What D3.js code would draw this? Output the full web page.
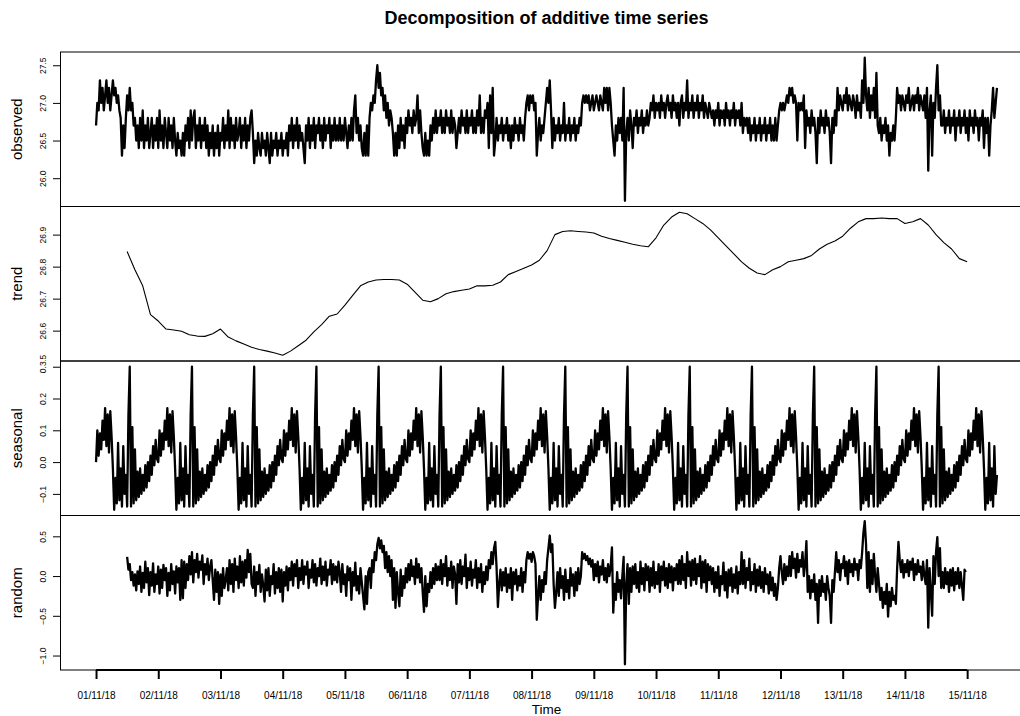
<!DOCTYPE html>
<html>
<head>
<meta charset="utf-8">
<script src="https://cdn.jsdelivr.net/npm/d3@7"></script>
<style>
  body { margin: 0; background: #fff; }
  svg { display: block; font-family: "Liberation Sans", Arial, Helvetica, sans-serif; }
</style>
</head>
<body>
<svg id="chart" width="1020" height="716"></svg>
<script>
// half-hourly readings starting 01/11/18 00:00
const observed = [
  26.7, 27.0, 26.9,
  27.3, 27.0, 27.2, 26.9, 27.1, 27.3, 27.0, 27.2, 26.9, 27.1, 27.3, 27.1, 27.2, 27.0, 27.1, 26.9,
  26.8, 26.3,
  26.7, 26.4, 26.8, 27.1, 26.9, 27.2, 26.9, 27.0, 26.7,
  26.8, 26.5, 26.7, 26.4, 26.8, 26.5, 26.9, 26.4, 26.7, 26.5, 26.8, 26.4, 26.6, 26.8, 26.4, 26.7,
  26.5, 26.8, 26.4, 26.9, 26.5, 26.7, 26.4, 26.8, 26.6, 26.4, 26.8, 26.5, 26.7, 26.4, 26.8, 26.5,
  26.3, 26.6, 26.4, 26.5, 26.3, 26.6, 26.3, 26.7,
  26.5, 26.8, 26.4, 26.9, 26.5, 26.8, 26.9, 26.4, 26.7, 26.5, 26.8, 26.4, 26.7, 26.5, 26.8, 26.4,
  26.7, 26.3, 26.6, 26.4, 26.7, 26.3, 26.6, 26.4, 26.7, 26.3, 26.6, 26.5,
  26.8, 26.4, 26.7, 26.5, 26.9, 26.4, 26.8, 26.5, 26.7, 26.4, 26.8, 26.5, 26.6, 26.8, 26.4, 26.7,
  26.5, 26.8, 26.4, 26.7, 26.5, 26.8, 26.9, 26.6,
  26.2, 26.5, 26.3, 26.6, 26.4, 26.3, 26.6, 26.4, 26.5, 26.3, 26.6, 26.4, 26.2, 26.6, 26.3, 26.5,
  26.4, 26.6, 26.3, 26.5, 26.4, 26.6, 26.3, 26.5, 26.4, 26.6, 26.3, 26.7,
  26.5, 26.8, 26.4, 26.7, 26.5, 26.8, 26.4, 26.7, 26.5, 26.6, 26.4, 26.2, 26.7, 26.5, 26.8, 26.4,
  26.7, 26.5, 26.8, 26.4, 26.7, 26.6, 26.8, 26.5, 26.7, 26.4, 26.8, 26.5, 26.7, 26.6, 26.8, 26.4,
  26.7, 26.5, 26.8, 26.5, 26.7, 26.5,
  26.8, 26.5, 26.7, 26.5, 26.8, 26.6, 26.4, 26.7, 26.5, 26.8, 26.5, 26.9, 27.1, 26.6, 26.8, 26.5, 26.7,
  26.4, 26.3, 26.6, 26.3, 26.7, 26.3,
  26.8, 27.0, 26.9, 27.1, 27.0, 27.3,
  27.5, 27.2, 27.4, 27.1,
  27.2, 26.9, 27.1, 26.8, 27.0, 26.7, 26.9, 26.8, 26.6,
  26.3, 26.6, 26.3, 26.7, 26.4, 26.8, 26.5, 26.7, 26.4, 26.8,
  26.6, 26.9, 26.7, 26.8, 26.6, 26.9, 26.7, 26.8, 27.1, 26.6, 26.9, 26.6,
  26.4, 26.3, 26.6, 26.3, 26.5, 26.3, 26.7, 26.5,
  26.8, 26.6, 26.9, 26.6, 26.8, 26.7, 26.9, 26.6, 26.8, 26.6, 26.9, 26.7, 26.8, 26.6, 26.9, 26.6,
  26.8, 26.7, 26.4, 26.6, 26.8, 26.6, 26.9, 26.7, 26.8, 26.6, 26.9, 26.6, 26.8, 26.7, 26.9, 26.6,
  26.8, 26.6, 26.9, 26.7, 27.1, 26.6, 26.8, 26.6, 26.9,
  26.8, 27.0, 26.4, 27.1, 26.6, 27.2, 26.3, 26.5,
  26.8, 26.5, 26.7, 26.6, 26.8, 26.5, 26.7, 26.6, 26.8, 26.5, 26.7, 26.4, 26.7, 26.5, 26.8, 26.6,
  26.7, 26.5, 26.8, 26.6, 26.7, 26.5, 26.8,
  27.0, 27.1, 26.9, 27.1, 27.0, 27.1, 26.9, 27.0,
  26.3,
  26.6, 26.8, 26.5, 26.7, 26.6, 26.8, 27.0,
  27.2, 27.0, 27.3, 26.9,
  26.4,
  26.8, 26.5, 26.7, 26.6, 26.8, 26.5, 26.7, 26.6, 27.0, 26.5, 26.7, 26.6, 26.8, 26.5, 26.7, 26.6,
  26.8, 26.5, 26.7, 26.6, 26.8, 26.7,
  27.0, 27.1, 27.0, 27.1, 27.0, 27.1, 26.9, 27.0, 27.1, 26.9, 27.0, 27.1, 27.0, 26.9, 27.1, 27.0,
  26.9, 27.2, 27.0, 27.2, 26.9, 27.2, 27.0,
  26.7, 26.5, 26.3, 26.7, 26.5, 26.8, 26.6, 26.8, 26.5, 27.2,
  25.7,
  26.6, 26.8, 26.5, 26.9, 26.7, 26.4, 26.8, 26.7, 26.9, 26.6, 26.8, 26.7, 26.9, 26.6, 26.8, 26.7,
  26.9, 26.7,
  26.8, 27.0, 26.9, 27.1, 26.8, 27.0, 26.9, 27.0, 26.8, 27.1, 26.9, 27.0, 26.8, 27.0, 27.1, 26.9,
  27.0, 26.8, 27.1, 26.9, 27.0, 26.8, 27.0,
  26.7, 27.0, 27.1, 26.8, 27.0, 26.9, 27.3, 26.8, 27.0, 26.9, 27.1, 26.8, 27.0, 26.9, 27.1, 26.8,
  27.0, 26.9, 27.1, 26.8, 27.0, 26.9, 26.8, 27.0, 26.9, 26.8,
  26.9, 26.7, 26.9, 26.8, 27.0, 26.7, 26.9, 26.8, 26.9, 26.7, 27.0, 26.8, 26.9, 26.7, 26.9, 26.8,
  27.0, 26.7, 26.9, 26.8, 26.9, 26.7, 27.0, 26.6, 26.8, 26.7,
  26.8, 26.6, 26.8, 26.5, 26.7, 26.6, 26.8, 26.5, 26.7, 26.6, 26.8, 26.5, 26.7, 26.6, 26.8, 26.5,
  26.7, 26.6, 26.8, 26.5, 26.7, 26.5, 26.8, 26.5, 26.7,
  26.9, 27.0, 26.9, 27.0, 26.9, 27.0, 27.1, 27.0,
  27.2, 27.1, 27.2, 27.0, 27.1, 27.0,
  26.5,
  27.0, 26.9, 27.0, 26.9, 27.1, 26.4, 26.9, 26.7,
  26.8, 26.6, 26.9, 26.7, 26.8, 26.6, 26.2, 26.8, 26.6, 26.9, 26.7, 26.8, 26.6, 26.9, 26.7, 26.8,
  26.6, 26.2, 26.8, 26.6, 26.9, 26.7,
  27.2, 26.9, 27.1, 27.0, 26.9, 27.1, 27.0, 27.2, 26.9, 27.1, 27.0, 26.9, 27.1, 27.0, 26.8, 27.1,
  26.9, 27.0,
  26.8, 27.3, 27.0, 27.6, 27.1,
  26.9, 27.2, 26.8, 27.1, 26.9, 27.2, 26.8, 27.4, 26.7,
  26.6, 26.8, 26.5, 26.7, 26.6, 26.8, 26.5, 26.7, 26.3, 26.6, 26.5, 26.7, 26.5, 26.8,
  27.2, 27.0, 27.1,
  26.9, 27.1, 27.0, 26.9, 27.1, 27.0, 27.2, 26.9, 27.0, 27.1, 26.9, 27.1, 27.0, 27.2, 26.9, 27.1,
  27.0, 26.9, 27.1,
  26.8, 27.2, 26.1, 26.9, 27.1, 26.3, 27.0, 26.8, 27.2, 27.5, 26.9, 27.1, 26.7,
  26.7, 26.9, 26.6, 26.8, 26.7, 26.9, 26.6, 26.8, 26.7, 26.9, 26.5, 26.8, 26.7, 26.9, 26.6, 26.8,
  26.7, 26.9, 26.6, 26.8, 26.5, 26.9, 26.7, 26.8, 26.6, 26.9, 26.7, 26.8, 26.5, 26.8, 26.7, 26.9,
  26.4, 26.8, 26.6, 26.8, 26.3, 26.7,
  26.9, 27.2, 26.8, 27.0, 27.2
];

// moving-average trend, read every 3 hours from 01/11/18 12:00
const trendValues = [
  26.847, 26.79, 26.74, 26.65, 26.63, 26.605, 26.602, 26.598, 26.587, 26.583,
  26.582, 26.59, 26.605, 26.58, 26.568, 26.558, 26.548, 26.541, 26.536, 26.53,
  26.523, 26.536, 26.553, 26.57, 26.596, 26.619, 26.645, 26.652, 26.68, 26.71,
  26.74, 26.752, 26.758, 26.76, 26.76, 26.758, 26.745, 26.72, 26.695, 26.69,
  26.70, 26.715, 26.722, 26.726, 26.73, 26.74, 26.74, 26.742, 26.752, 26.775,
  26.785, 26.795, 26.805, 26.82, 26.85, 26.90, 26.91, 26.912, 26.91, 26.908,
  26.905, 26.895, 26.888, 26.882, 26.876, 26.87, 26.865, 26.862, 26.89, 26.93,
  26.955, 26.97, 26.965, 26.95, 26.935, 26.915, 26.89, 26.865, 26.84, 26.815,
  26.795, 26.78, 26.775, 26.79, 26.80, 26.815, 26.82, 26.825, 26.835, 26.855,
  26.87, 26.88, 26.895, 26.92, 26.94, 26.95, 26.95, 26.952, 26.95, 26.95,
  26.935, 26.94, 26.95, 26.93, 26.90, 26.875, 26.855, 26.825, 26.815
];

// one day of the seasonal figure, half-hourly from 00:00
const seasonalFigure = [
  0.00, 0.10, 0.02, 0.09, 0.04, 0.13, 0.07, 0.17, 0.05, 0.15,
  0.03, 0.16, 0.08, -0.02, -0.15, -0.05, -0.13, 0.06, -0.12, -0.02,
  -0.14, 0.05, -0.10, -0.04, -0.14, 0.15, 0.30, -0.14, 0.11, -0.13,
  0.04, -0.12, -0.03, -0.11, -0.02, -0.10, -0.04, -0.09, -0.01, -0.08,
  0.00, -0.06, 0.02, -0.04, 0.05, -0.01, 0.07, 0.01
];

// remainder, half-hourly from 01/11/18 12:00
const randomValues = [
  0.24, 0.08, 0.15, -0.05, 0.05, -0.12, 0.02, -0.18, 0.06, -0.1, 0.12, -0.2, 0.04, -0.15, 0.18, -0.08,
  0.1, -0.24, 0.05, -0.12, 0.16, -0.2, 0.02, -0.1, 0.12, -0.22, 0.08, -0.15, 0.14, -0.05, 0.1, -0.25,
  0.04, -0.18, 0.15, -0.1, 0.06, -0.22, 0.12, -0.08, 0.1,
  -0.3, 0.2, -0.28, 0.18, -0.15,
  0.15, -0.05, 0.25, 0.02, 0.3, -0.08, 0.2, 0.05, 0.28, -0.02, 0.18, 0.08, 0.26, -0.1, 0.15, 0.02,
  0.22, -0.05, 0.12, 0.2,
  -0.05, -0.3, 0.08, -0.2, 0.05, -0.35, 0.02, -0.25, 0.1, -0.15, -0.05,
  0.1, -0.18, 0.2, -0.1, 0.15, -0.2, 0.22, -0.05, 0.12, -0.15, 0.25, -0.08, 0.18, -0.12, 0.2, -0.02,
  0.33, 0.05, 0.28, -0.1,
  -0.15, 0.12, -0.25, 0.05, -0.1, 0.14, -0.2, 0.02, -0.12, -0.32, 0.08, -0.18, 0.1, -0.25, 0.0, -0.1,
  0.15, -0.22, 0.05, -0.15, 0.1, -0.2, 0.08, -0.32, 0.05, -0.12, 0.12, -0.18, 0.1,
  -0.05, 0.18, -0.12, 0.15, 0.0, 0.2, -0.15, 0.1, -0.05, 0.2, -0.1, 0.12, 0.02, 0.18, -0.15, 0.08,
  -0.02, 0.2, -0.08, 0.15, -0.12, 0.1, 0.0, 0.22, -0.1, 0.12, -0.05, 0.18, -0.12, 0.08, 0.02, 0.2,
  -0.1, 0.15, -0.05, 0.12, -0.08, 0.18,
  0.05, -0.2, 0.15, -0.1, 0.02, -0.25, 0.12, -0.05, 0.1, -0.3, 0.05, -0.12, 0.17, -0.18, 0.0, -0.22,
  0.1, -0.08, -0.25,
  -0.42, 0.0, -0.35, 0.05,
  0.1, -0.15, 0.2, 0.05, 0.3, 0.2,
  0.4, 0.48, 0.35, 0.45,
  0.3, 0.38, 0.1, 0.3, 0.05, 0.25, 0.0, 0.2,
  -0.3, 0.1, -0.4, 0.05, -0.2, -0.38, 0.08, -0.25, 0.0, -0.15, 0.1,
  -0.08, 0.15, -0.05, 0.2, 0.0, 0.12, -0.1, 0.22, -0.02, 0.15, -0.08, 0.1,
  -0.2, -0.45, 0.0, -0.38, -0.1,
  -0.2, 0.05, -0.15, 0.1, -0.1, 0.15, -0.05, 0.12,
  -0.05, 0.2, -0.1, 0.15, 0.0, 0.25, -0.12, 0.1, -0.05, 0.18, -0.15, 0.12, 0.02, -0.35, 0.15, -0.08,
  0.2, -0.1, 0.12, 0.0, 0.27, -0.15, 0.1, -0.05, 0.18, -0.12, 0.08, -0.02, 0.2, -0.15, 0.1, -0.08,
  0.15, -0.2, 0.05, -0.1, 0.12, -0.05, 0.2,
  0.1, 0.3, 0.15, 0.35, 0.43, 0.1, -0.39,
  -0.1, 0.08, -0.18, 0.05, -0.12, 0.1, -0.2, 0.02, -0.15, 0.1, -0.3, 0.05, -0.1, 0.08, -0.18, 0.0,
  -0.12, 0.1, -0.2, 0.05, -0.08,
  0.2, 0.3, 0.22, 0.28, 0.18, 0.3, 0.25, 0.15,
  -0.55,
  -0.25, 0.0, -0.3, -0.05, -0.2, 0.05, -0.1,
  0.2, 0.35, 0.51, 0.3, 0.4,
  -0.1, -0.4, -0.2,
  0.05, -0.25, 0.1, -0.15, 0.0, -0.3, 0.08, -0.2, -0.05, -0.28, 0.1, -0.12, 0.02, -0.25, 0.05, -0.18,
  0.1, -0.1, 0.0,
  0.3, 0.22, 0.28, 0.2, 0.25, 0.15, 0.22, 0.12,
  0.2, -0.05, 0.15, 0.0, 0.18, -0.08, 0.12, 0.02, 0.2, -0.05, 0.1, -0.08, 0.15, 0.0, 0.12,
  0.36, -0.46,
  -0.1, -0.3, 0.05, -0.2, -0.05, -0.28, 0.0, 0.24,
  -1.11,
  -0.1,
  0.15, -0.35, 0.1, -0.2, 0.12, -0.1, 0.15, -0.15, 0.05, -0.2, 0.18, -0.1, 0.1, -0.18, 0.15, -0.05,
  0.12, -0.2, 0.1, -0.12, 0.18, -0.15, 0.05, -0.1, 0.15, -0.2, 0.12, -0.05, 0.18, -0.12, 0.1, -0.15,
  0.15, -0.08, 0.12, -0.18, 0.1, -0.05, 0.15, -0.1,
  0.2, -0.1, 0.25, -0.05, 0.15, -0.15, 0.3, 0.0, 0.18, -0.12, 0.2, -0.05, 0.22, -0.1, 0.15, 0.0,
  0.25, -0.15, 0.18, -0.08, 0.2, -0.2, 0.15, -0.05, 0.12, -0.1,
  0.1, -0.2, 0.05, -0.15, 0.12, -0.25, 0.0, -0.1, 0.17, -0.18, 0.05, -0.27, 0.08, -0.12, 0.1, -0.2,
  0.02, -0.15, 0.12, -0.22, 0.05, -0.1,
  0.3, -0.1, 0.2, -0.15, 0.1, -0.05, 0.22, -0.18, 0.05, -0.1, 0.15, -0.2, 0.08, -0.12, 0.12, -0.15,
  0.05, -0.2, 0.1, -0.1, 0.02, -0.22, 0.05, -0.18, -0.02, -0.25, -0.1, -0.3, -0.15,
  0.1, 0.25, 0.05,
  -0.1, 0.15, -0.05, 0.12, 0.0,
  0.25, 0.0, 0.3, 0.1, 0.22, -0.02, 0.28, 0.05, 0.2, 0.12, 0.3, 0.0, 0.15, 0.44,
  -0.2, 0.0, -0.28, -0.05, -0.2, 0.02, -0.3, -0.1, -0.59, -0.05, -0.25, 0.0, -0.2, -0.1, -0.3, 0.0,
  -0.15, -0.25, -0.59, -0.05, -0.2, 0.05,
  0.3, 0.05, 0.2, -0.05, 0.15, 0.1, 0.25, 0.0, 0.18, -0.1, 0.2, 0.05, 0.15, 0.0, 0.22, 0.08,
  0.15, -0.05, 0.2, 0.1,
  0.3, 0.55, 0.69, 0.4,
  -0.15, 0.3, -0.2, 0.2, -0.1, 0.28, 0.0, -0.2, 0.1,
  -0.1, -0.3, -0.15, -0.4, -0.2, -0.35, -0.1, -0.51, -0.2, -0.38, -0.15, -0.3, -0.25, -0.35,
  0.1, 0.43, 0.2,
  0.05, 0.2, -0.02, 0.15, 0.05, 0.2, 0.0, 0.18, 0.08, 0.22, -0.05, 0.15, 0.02, 0.2, 0.05, 0.12,
  -0.05, 0.18, 0.0,
  -0.1, 0.2, -0.65, 0.1, -0.2, -0.5, 0.25, -0.1, 0.3, 0.49, 0.0, 0.35, -0.15,
  0.05, -0.15, 0.1, -0.1, 0.05, -0.2, 0.08, -0.12, 0.1, -0.18, 0.05, -0.1, 0.1, -0.15, 0.05, -0.12,
  -0.3, 0.08, 0.05
];

const dayLabels = ['01/11/18', '02/11/18', '03/11/18', '04/11/18', '05/11/18', '06/11/18', '07/11/18',
  '08/11/18', '09/11/18', '10/11/18', '11/11/18', '12/11/18', '13/11/18', '14/11/18', '15/11/18'];

const panelNames = ['observed', 'trend', 'seasonal', 'random'];
const observedTicks = [26.0, 26.5, 27.0, 27.5];
const trendTicks = [26.5, 26.6, 26.7, 26.8, 26.9];
const seasonalTicks = [-0.1, 0.0, 0.1, 0.2, 0.3];
const randomTicks = [-1.0, -0.5, 0.0, 0.5];

// --- time base ---
const stepMinutes = 30;
const perDay = 48;
const halfDay = perDay / 2;
const trendEvery = 6;
const start = d3.timeParse('%d/%m/%y')(dayLabels[0]);
const timeAt = i => new Date(start.getTime() + i * stepMinutes * 60000);

const series = [
  observed.map((v, i) => ({t: timeAt(i), v})),
  trendValues.map((v, j) => ({t: timeAt(halfDay + j * trendEvery), v})),
  observed.map((_, i) => ({t: timeAt(i), v: seasonalFigure[i % perDay]})),
  randomValues.map((v, k) => ({t: timeAt(halfDay + k), v}))
];
const tickSets = [observedTicks, trendTicks, seasonalTicks, randomTicks];
// the dense series need a heavier pen to read as a solid band
const strokeWidths = [2.3, 1.1, 2.3, 2.3];

// --- layout ---
const plotLeft = 60, plotRight = 1033, plotTop = 52, plotBottom = 670;
const panelH = (plotBottom - plotTop) / 4;

const svg = d3.select('#chart');
svg.append('rect').attr('width', 1020).attr('height', 716).attr('fill', '#fff');

// x scale over the whole record, padded 4% each side like R
const t0 = timeAt(0), t1 = timeAt(observed.length - 1);
const xPad = (t1 - t0) * 0.04;
const x = d3.scaleTime()
    .domain([new Date(t0.getTime() - xPad), new Date(t1.getTime() + xPad)])
    .range([plotLeft, plotRight]);

const line = (y) => d3.line().x(d => x(d.t)).y(d => y(d.v));

series.forEach((data, p) => {
  const top = plotTop + p * panelH;
  const bottom = top + panelH;

  const [lo, hi] = d3.extent(data, d => d.v);
  const pad = (hi - lo) * 0.04;
  const y = d3.scaleLinear().domain([lo - pad, hi + pad]).range([bottom, top]);

  svg.append('clipPath').attr('id', 'plot-clip-' + p)
    .append('rect')
      .attr('x', plotLeft).attr('y', top)
      .attr('width', plotRight - plotLeft).attr('height', panelH);

  svg.append('clipPath').attr('id', 'fig-clip-' + p)
    .append('rect')
      .attr('x', 0).attr('y', top)
      .attr('width', 1020).attr('height', panelH);

  // series line
  svg.append('path')
      .datum(data)
      .attr('clip-path', `url(#plot-clip-${p})`)
      .attr('fill', 'none')
      .attr('stroke', '#000')
      .attr('stroke-width', strokeWidths[p])
      .attr('stroke-linejoin', 'round')
      .attr('d', line(y));

  // y axis, labels rotated like R
  const yAxis = d3.axisLeft(y)
      .tickValues(tickSets[p])
      .tickSize(7)
      .tickSizeOuter(0)
      .tickFormat(d3.format('.1f'));

  const yAxisG = svg.append('g')
      .attr('clip-path', `url(#fig-clip-${p})`)
    .append('g')
      .attr('transform', `translate(${plotLeft},0)`)
      .call(yAxis);
  yAxisG.select('.domain').remove();
  yAxisG.selectAll('.tick line').attr('stroke', '#000');
  yAxisG.selectAll('.tick text')
      .attr('font-size', 8.5)
      .attr('fill', '#000')
      .attr('x', 0)
      .attr('y', -14.5)
      .attr('dy', null)
      .attr('text-anchor', 'middle')
      .attr('transform', 'rotate(-90)')
      .text(d => d3.format('.1f')(d).replace('-', '\u2212'));
  yAxisG.attr('font-family', null).attr('font-size', null);

  // panel label
  svg.append('text')
      .attr('transform', `translate(22,${(top + bottom) / 2}) rotate(-90)`)
      .attr('text-anchor', 'middle')
      .attr('font-size', 15)
      .text(panelNames[p]);

  // panel box
  svg.append('rect')
      .attr('x', plotLeft + 0.5).attr('y', top)
      .attr('width', plotRight - plotLeft).attr('height', panelH)
      .attr('fill', 'none')
      .attr('stroke', '#000')
      .attr('stroke-width', 1);
});

// bottom time axis
const parseDay = d3.timeParse('%d/%m/%y');
const dayTicks = dayLabels.map(parseDay);
const xAxis = d3.axisBottom(x)
    .tickValues(dayTicks)
    .tickSize(9)
    .tickSizeOuter(0)
    .tickPadding(13)
    .tickFormat(d3.timeFormat('%d/%m/%y'));

const xAxisG = svg.append('g')
    .attr('transform', `translate(0,${plotBottom})`)
    .call(xAxis);
xAxisG.select('.domain').remove();
xAxisG.attr('font-family', null);
xAxisG.selectAll('.tick line').attr('stroke', '#000').attr('stroke-width', 2);
xAxisG.selectAll('.tick text').attr('font-size', 10).attr('fill', '#000');
xAxisG.append('line')
    .attr('x1', x(dayTicks[0])).attr('x2', x(dayTicks[dayTicks.length - 1]))
    .attr('stroke', '#000').attr('stroke-width', 2);

svg.append('text')
    .attr('x', (plotLeft + plotRight) / 2)
    .attr('y', 713.5)
    .attr('text-anchor', 'middle')
    .attr('font-size', 13.5)
    .text('Time');

svg.append('text')
    .attr('x', (plotLeft + plotRight) / 2)
    .attr('y', 24)
    .attr('text-anchor', 'middle')
    .attr('font-size', 18)
    .attr('font-weight', 'bold')
    .text('Decomposition of additive time series');
</script>
</body>
</html>
